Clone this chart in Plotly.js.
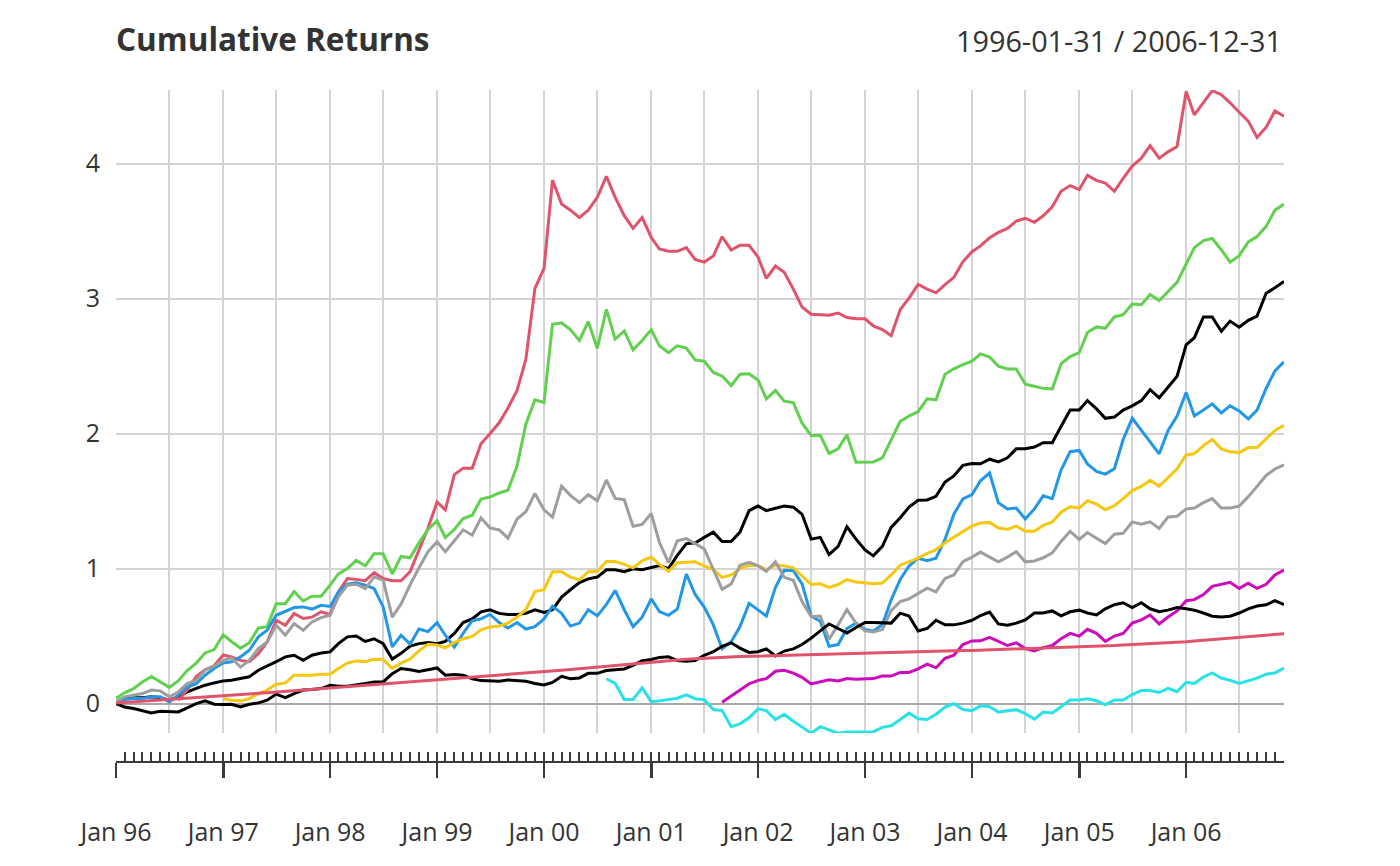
<!DOCTYPE html>
<html>
<head>
<meta charset="utf-8">
<script src="https://cdn.plot.ly/plotly-3.0.1.min.js"></script>
<style>html,body{margin:0;padding:0;background:#fff;}#chart{width:1400px;height:866px;}</style>
</head>
<body>
<div id="chart"></div>
<script>
// Month-end dates 1996-01 .. 2006-12
const startYear = 1996, endYear = 2006;
const dates = [];
for (let y = startYear; y <= endYear; y++) {
  for (let m = 1; m <= 12; m++) {
    const d = new Date(Date.UTC(y, m, 0)).getUTCDate();
    dates.push(y + '-' + String(m).padStart(2, '0') + '-' + String(d).padStart(2, '0'));
  }
}
const tickLabels = ['Jan 96','Jan 97','Jan 98','Jan 99','Jan 00','Jan 01','Jan 02','Jan 03','Jan 04','Jan 05','Jan 06'];
const yTicks = [0, 1, 2, 3, 4];
const N = null;

const HAM1 = [0.012,0.044,0.044,0.044,0.05,0.044,0.025,0.05,0.086,0.11,0.136,0.153,
0.168,0.173,0.185,0.198,0.247,0.277,0.31,0.346,0.358,0.32,0.358,0.375,
0.383,0.444,0.494,0.5,0.46,0.48,0.444,0.33,0.372,0.426,0.444,0.452,
0.444,0.46,0.52,0.60,0.627,0.68,0.695,0.668,0.66,0.66,0.668,0.695,
0.675,0.695,0.789,0.843,0.896,0.924,0.937,0.991,0.991,0.977,0.999,0.991,
1.01,1.023,1.0,1.098,1.185,1.19,1.231,1.27,1.2,1.2,1.27,1.429,
1.463,1.429,1.447,1.463,1.455,1.402,1.218,1.231,1.104,1.165,1.31,1.218,
1.138,1.094,1.165,1.305,1.376,1.455,1.506,1.508,1.535,1.641,1.686,1.765,
1.778,1.776,1.81,1.79,1.82,1.887,1.887,1.90,1.932,1.932,2.053,2.174,
2.174,2.244,2.183,2.113,2.122,2.174,2.205,2.244,2.325,2.265,2.343,2.425,
2.658,2.71,2.864,2.864,2.758,2.833,2.788,2.839,2.87,3.039,3.08,3.127];

const HAM2 = [N,N,N,N,N,N,N,0.025,0.10,0.20,0.25,0.28,
0.36,0.345,0.32,0.31,0.37,0.457,0.617,0.58,0.667,0.63,0.64,0.68,
0.66,0.827,0.926,0.92,0.91,0.97,0.926,0.91,0.91,0.977,1.14,1.30,
1.494,1.435,1.696,1.744,1.744,1.924,2.0,2.08,2.19,2.32,2.55,3.076,
3.224,3.878,3.70,3.655,3.60,3.655,3.75,3.905,3.75,3.614,3.52,3.60,
3.453,3.367,3.35,3.35,3.378,3.289,3.27,3.315,3.458,3.36,3.395,3.395,
3.307,3.149,3.241,3.194,3.07,2.937,2.884,2.882,2.877,2.893,2.859,2.85,
2.85,2.797,2.77,2.725,2.919,3.003,3.104,3.07,3.043,3.104,3.157,3.273,
3.347,3.39,3.45,3.49,3.52,3.574,3.595,3.565,3.613,3.68,3.795,3.837,
3.807,3.913,3.876,3.855,3.795,3.89,3.982,4.04,4.133,4.04,4.087,4.126,
4.533,4.36,4.45,4.54,4.51,4.45,4.38,4.315,4.194,4.27,4.39,4.35];

const HAM3 = [0.04,0.08,0.11,0.16,0.2,0.16,0.12,0.17,0.245,0.30,0.375,0.40,
0.51,0.46,0.41,0.45,0.56,0.57,0.74,0.74,0.83,0.76,0.795,0.795,
0.877,0.96,1.0,1.06,1.02,1.11,1.11,0.96,1.09,1.08,1.19,1.29,
1.354,1.23,1.29,1.37,1.395,1.515,1.53,1.56,1.58,1.76,2.07,2.25,
2.23,2.81,2.82,2.77,2.69,2.83,2.63,2.92,2.70,2.76,2.62,2.69,
2.77,2.65,2.60,2.65,2.633,2.546,2.536,2.453,2.426,2.355,2.44,2.443,
2.395,2.257,2.32,2.24,2.23,2.077,1.985,1.987,1.853,1.887,1.99,1.787,
1.787,1.79,1.82,1.95,2.09,2.13,2.162,2.257,2.25,2.44,2.48,2.51,
2.536,2.59,2.567,2.50,2.478,2.478,2.365,2.35,2.335,2.33,2.516,2.57,
2.60,2.749,2.79,2.78,2.864,2.88,2.96,2.955,3.03,2.985,3.05,3.12,
3.256,3.377,3.43,3.445,3.362,3.27,3.318,3.42,3.46,3.535,3.655,3.70];

const HAM4 = [0.005,0.03,0.037,0.037,0.05,0.05,0.012,0.062,0.123,0.148,0.21,0.26,
0.30,0.31,0.346,0.395,0.494,0.543,0.654,0.68,0.711,0.716,0.70,0.728,
0.72,0.827,0.884,0.894,0.877,0.852,0.716,0.42,0.506,0.44,0.552,0.533,
0.60,0.506,0.418,0.52,0.614,0.627,0.66,0.60,0.56,0.60,0.552,0.57,
0.627,0.721,0.668,0.574,0.596,0.695,0.65,0.735,0.838,0.695,0.57,0.64,
0.776,0.681,0.654,0.70,0.96,0.808,0.715,0.583,0.405,0.458,0.57,0.742,
0.69,0.649,0.861,0.987,0.985,0.887,0.649,0.61,0.424,0.437,0.556,0.596,
0.548,0.538,0.583,0.768,0.919,1.019,1.077,1.059,1.077,1.218,1.403,1.516,
1.548,1.65,1.708,1.488,1.442,1.448,1.367,1.442,1.539,1.518,1.73,1.866,
1.875,1.775,1.72,1.70,1.74,1.956,2.113,2.022,1.932,1.85,2.022,2.13,
2.304,2.13,2.174,2.22,2.153,2.205,2.168,2.108,2.174,2.334,2.464,2.531];

const HAM5 = [N,N,N,N,N,N,N,N,N,N,N,N,
N,N,N,N,N,N,N,N,N,N,N,N,
N,N,N,N,N,N,N,N,N,N,N,N,
N,N,N,N,N,N,N,N,N,N,N,N,
N,N,N,N,N,N,N,0.184,0.149,0.03,0.03,0.116,
0.014,0.02,0.03,0.04,0.065,0.036,0.028,-0.044,-0.052,-0.171,-0.15,-0.105,
-0.039,-0.052,-0.118,-0.079,-0.131,-0.171,-0.219,-0.171,-0.197,-0.219,-0.21,-0.21,
-0.21,-0.21,-0.176,-0.165,-0.118,-0.071,-0.113,-0.118,-0.079,-0.026,0,-0.044,
-0.052,-0.017,-0.024,-0.063,-0.054,-0.045,-0.075,-0.115,-0.063,-0.069,-0.024,0.027,
0.027,0.036,0.021,-0.009,0.027,0.027,0.067,0.097,0.097,0.082,0.112,0.088,
0.158,0.149,0.197,0.227,0.188,0.173,0.149,0.167,0.188,0.218,0.227,0.263];

const HAM6 = [N,N,N,N,N,N,N,N,N,N,N,N,
N,N,N,N,N,N,N,N,N,N,N,N,
N,N,N,N,N,N,N,N,N,N,N,N,
N,N,N,N,N,N,N,N,N,N,N,N,
N,N,N,N,N,N,N,N,N,N,N,N,
N,N,N,N,N,N,N,N,0.009,0.053,0.098,0.146,
0.172,0.185,0.239,0.247,0.226,0.194,0.146,0.159,0.177,0.167,0.185,0.18,
0.18,0.185,0.204,0.204,0.231,0.231,0.257,0.292,0.265,0.336,0.358,0.437,
0.464,0.465,0.49,0.46,0.43,0.45,0.408,0.39,0.414,0.43,0.481,0.52,
0.5,0.55,0.52,0.46,0.5,0.52,0.596,0.62,0.656,0.59,0.641,0.686,
0.762,0.77,0.807,0.868,0.883,0.898,0.853,0.892,0.853,0.883,0.953,0.989];

const EDHEC = [N,N,N,N,N,N,N,N,N,N,N,N,
0.037,0.025,0.02,0.037,0.074,0.10,0.143,0.153,0.21,0.21,0.21,0.217,
0.217,0.26,0.30,0.316,0.31,0.328,0.326,0.26,0.30,0.33,0.39,0.44,
0.434,0.413,0.453,0.48,0.498,0.547,0.568,0.575,0.595,0.641,0.695,0.83,
0.843,0.977,0.977,0.937,0.917,0.977,0.98,1.053,1.053,1.031,1.005,1.058,
1.085,1.031,0.98,1.044,1.048,1.05,1.02,0.993,0.935,0.953,0.998,1.025,
1.02,0.993,1.025,1.02,1.006,0.945,0.882,0.887,0.861,0.882,0.919,0.9,
0.893,0.887,0.893,0.953,1.025,1.05,1.077,1.112,1.139,1.191,1.231,1.27,
1.316,1.337,1.342,1.3,1.291,1.315,1.276,1.276,1.321,1.345,1.418,1.458,
1.448,1.503,1.478,1.436,1.466,1.518,1.578,1.609,1.654,1.609,1.67,1.739,
1.842,1.851,1.911,1.957,1.887,1.865,1.859,1.896,1.896,1.963,2.023,2.062];

const SP500 = [0.012,0.05,0.062,0.074,0.1,0.094,0.05,0.086,0.148,0.173,0.247,0.277,
0.32,0.338,0.27,0.32,0.407,0.457,0.58,0.506,0.593,0.543,0.605,0.637,
0.654,0.79,0.877,0.884,0.852,0.938,0.914,0.64,0.737,0.88,1.004,1.125,
1.198,1.125,1.206,1.287,1.247,1.376,1.30,1.287,1.225,1.367,1.421,1.556,
1.435,1.381,1.61,1.542,1.489,1.547,1.502,1.656,1.52,1.51,1.313,1.327,
1.408,1.193,1.044,1.206,1.222,1.183,1.146,0.993,0.847,0.887,1.025,1.046,
1.02,0.979,1.05,0.935,0.913,0.755,0.644,0.649,0.477,0.583,0.696,0.596,
0.538,0.53,0.548,0.688,0.755,0.776,0.813,0.855,0.828,0.927,0.953,1.051,
1.085,1.122,1.085,1.05,1.085,1.125,1.05,1.056,1.08,1.116,1.2,1.276,
1.216,1.267,1.225,1.185,1.255,1.261,1.346,1.328,1.346,1.297,1.382,1.388,
1.442,1.448,1.488,1.518,1.448,1.448,1.463,1.533,1.609,1.69,1.738,1.769];

const US10Y = [0,-0.025,-0.037,-0.054,-0.07,-0.057,-0.057,-0.062,-0.032,0,0.02,-0.005,
-0.007,-0.005,-0.025,-0.005,0.005,0.025,0.07,0.044,0.074,0.1,0.104,0.111,
0.136,0.128,0.128,0.136,0.148,0.16,0.16,0.222,0.26,0.25,0.237,0.251,
0.264,0.21,0.215,0.21,0.184,0.17,0.17,0.165,0.175,0.17,0.165,0.149,
0.138,0.157,0.202,0.184,0.19,0.224,0.224,0.245,0.251,0.256,0.283,0.318,
0.326,0.342,0.347,0.318,0.314,0.318,0.358,0.384,0.424,0.45,0.411,0.379,
0.384,0.405,0.352,0.389,0.405,0.437,0.485,0.538,0.59,0.556,0.522,0.564,
0.601,0.601,0.596,0.596,0.67,0.649,0.538,0.556,0.617,0.583,0.583,0.596,
0.617,0.652,0.678,0.59,0.58,0.596,0.62,0.671,0.671,0.686,0.65,0.68,
0.692,0.671,0.656,0.702,0.732,0.747,0.711,0.747,0.702,0.68,0.692,0.711,
0.702,0.692,0.671,0.647,0.641,0.647,0.671,0.702,0.723,0.732,0.762,0.732];

const US3M = [0.004,0.008,0.013,0.017,0.022,0.026,0.031,0.035,0.04,0.044,0.049,0.053,
0.058,0.062,0.067,0.072,0.076,0.081,0.086,0.09,0.095,0.1,0.104,0.109,
0.114,0.119,0.124,0.128,0.133,0.138,0.143,0.148,0.153,0.158,0.163,0.168,
0.173,0.178,0.183,0.188,0.193,0.199,0.204,0.209,0.215,0.22,0.225,0.231,
0.236,0.242,0.247,0.253,0.259,0.265,0.271,0.277,0.283,0.289,0.295,0.30,
0.31,0.315,0.32,0.324,0.328,0.332,0.336,0.339,0.342,0.345,0.348,0.35,
0.352,0.354,0.356,0.358,0.36,0.362,0.364,0.366,0.368,0.37,0.372,0.374,
0.376,0.378,0.38,0.381,0.383,0.384,0.386,0.387,0.389,0.39,0.391,0.393,
0.394,0.396,0.398,0.4,0.402,0.404,0.406,0.408,0.41,0.412,0.414,0.416,
0.418,0.421,0.424,0.427,0.43,0.434,0.437,0.441,0.444,0.448,0.451,0.455,
0.458,0.463,0.468,0.473,0.478,0.483,0.488,0.494,0.5,0.506,0.512,0.518];

const seriesNames = ['HAM1','HAM2','HAM3','HAM4','HAM5','HAM6','EDHEC LS EQ','SP500 TR','US 10Y TR','US 3m TR'];
const seriesData = [HAM1, HAM2, HAM3, HAM4, HAM5, HAM6, EDHEC, SP500, US10Y, US3M];
const seriesColors = ['#000000','#DF536B','#61D04F','#2297E6','#28E2E5','#CD0BBC','#F5C710','#9E9E9E','#000000','#DF536B'];

const FONT = 'Open Sans, Noto Sans, sans-serif';
const TXT = '#333333';

const traces = seriesData.map((vals, k) => ({
  type: 'scatter', mode: 'lines', name: seriesNames[k],
  x: dates, y: vals, xaxis: 'x', yaxis: 'y',
  line: {color: seriesColors[k], width: 3},
  connectgaps: false, showlegend: false, hoverinfo: 'skip'
}));
// carrier traces (no visible marks) so the overlay tick axes are drawn
traces.push({type:'scatter', mode:'lines', x:[dates[0]], y:[null], xaxis:'x2', yaxis:'y', showlegend:false, hoverinfo:'skip'});
traces.push({type:'scatter', mode:'lines', x:[dates[0]], y:[null], xaxis:'x3', yaxis:'y', showlegend:false, hoverinfo:'skip'});

const gridVals = dates.filter((d, i) => i % 6 === 0);
const janVals = dates.filter((d, i) => i % 12 === 0);
const xr = [dates[0], dates[dates.length - 1]];

const plotH = 866 - 90 - 104;
const layout = {
  width: 1400, height: 866,
  margin: {l: 116, r: 116, t: 90, b: 104, pad: 0},
  paper_bgcolor: '#ffffff', plot_bgcolor: '#ffffff',
  font: {family: FONT, color: TXT},
  title: {
    text: '<b>Cumulative Returns</b>',
    font: {family: FONT, size: 31.5, color: TXT},
    x: 0, xref: 'paper', xanchor: 'left',
    y: 1 - 40 / 866, yref: 'container', yanchor: 'middle'
  },
  annotations: [{
    text: '1996-01-31 / 2006-12-31', showarrow: false,
    xref: 'paper', yref: 'paper', x: 1, xanchor: 'right',
    y: (plotH + 90 - 40) / plotH, yanchor: 'middle',
    font: {family: FONT, size: 28.8, color: TXT}
  }],
  xaxis: {
    type: 'date', range: xr, tickmode: 'array', tickvals: gridVals,
    showticklabels: false, ticks: '', showgrid: true, gridcolor: '#d4d4d4', gridwidth: 2,
    zeroline: false, showline: false, fixedrange: true
  },
  xaxis2: {
    type: 'date', range: xr, overlaying: 'x', anchor: 'free', position: 0,
    tickmode: 'array', tickvals: janVals, ticktext: tickLabels,
    ticks: 'outside', ticklen: 15, tickwidth: 2.6, tickcolor: '#3a3a3a',
    showline: true, linecolor: '#3a3a3a', linewidth: 2.4,
    showgrid: false, zeroline: false, ticklabelstandoff: 33,
    tickfont: {family: FONT, size: 25, color: TXT}
  },
  xaxis3: {
    type: 'date', range: xr, overlaying: 'x', anchor: 'free', position: 0,
    tickmode: 'array', tickvals: dates, showticklabels: false,
    ticks: 'inside', ticklen: 10, tickwidth: 2, tickcolor: '#3a3a3a',
    showline: false, showgrid: false, zeroline: false
  },
  yaxis: {
    domain: [29 / plotH, 1], range: [-0.218, 4.545],
    tickmode: 'array', tickvals: yTicks, ticktext: yTicks.map(String),
    ticks: '', showgrid: true, gridcolor: '#d4d4d4', gridwidth: 2,
    zeroline: true, zerolinecolor: '#a8a8a8', zerolinewidth: 2,
    showline: false, ticklabelstandoff: 15,
    tickfont: {family: FONT, size: 25, color: TXT}
  },
  showlegend: false
};

Plotly.newPlot('chart', traces, layout, {displayModeBar: false, staticPlot: true});
</script>
</body>
</html>
